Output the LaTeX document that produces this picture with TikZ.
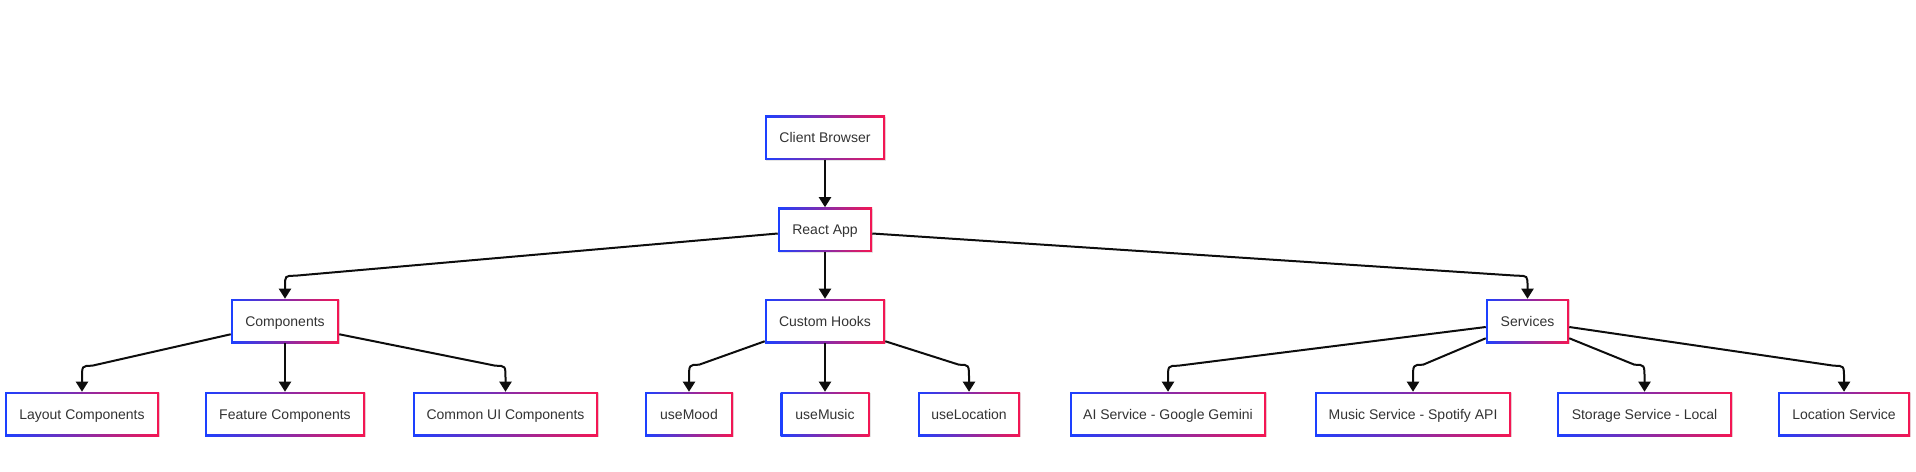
\documentclass[tikz,border=0pt]{standalone}
\usepackage{fontspec}
\setmainfont{Liberation Sans}
\usetikzlibrary{arrows.meta,calc}
\definecolor{bblue}{RGB}{28,64,255}
\definecolor{bred}{RGB}{245,22,82}
\definecolor{txt}{RGB}{51,51,51}
\newdimen\pxu \pxu=0.75pt
\tikzset{
  box/.style={rectangle, draw=none, inner sep=0pt, minimum height=44\pxu,
    minimum width=#1\pxu, text=txt, font=\fontsize{10.5pt}{12pt}\selectfont,
    text height=7.6pt, text depth=0pt,
    preaction={fill=black!10, transform canvas={shift={(0.8pt,-0.8pt)}}},
    path picture={
      \shade[left color=bblue, right color=bred]
        (path picture bounding box.south west) rectangle (path picture bounding box.north east);
      \fill[white] ([shift={(1.5pt,1.5pt)}]path picture bounding box.south west)
        rectangle ([shift={(-1.5pt,-1.5pt)}]path picture bounding box.north east);
    }},
  edge/.style={line width=1.5pt, draw=black!95, -{Triangle[length=7.5pt,width=9pt]}},
}
\begin{document}
\begin{tikzpicture}[x=0.75pt, y=-0.75pt]
\useasboundingbox (0,0) rectangle (1916,471);
% nodes
\node[box=120] (client) at (825,137.5) {Client Browser};
\node[box=94]  (react)  at (825,229.5) {React App};
\node[box=108] (comp)   at (285,321) {Components};
\node[box=120] (hooks)  at (825,321) {Custom Hooks};
\node[box=83]  (serv)   at (1527.5,321) {Services};
\node[box=154] (layout) at (82,414) {Layout Components};
\node[box=160] (feat)   at (285,414) {Feature Components};
\node[box=185] (common) at (505.5,414) {Common UI Components};
\node[box=88]  (mood)   at (689,414) {useMood};
\node[box=89]  (music)  at (825,414) {useMusic};
\node[box=102] (loc)    at (969,414) {useLocation};
\node[box=196] (ai)     at (1168,414) {AI Service - Google Gemini};
\node[box=196] (spot)   at (1413,414) {Music Service - Spotify API};
\node[box=175] (stor)   at (1644.5,414) {Storage Service - Local};
\node[box=132] (locs)   at (1844,414) {Location Service};
% straight edges
\draw[edge] (client.south) -- (react.north);
\draw[edge] (react.south) -- (hooks.north);
\draw[edge] (comp.south) -- (feat.north);
\draw[edge] (hooks.south) -- (music.north);
% curved edges, level 1
\draw[edge] ([shift={(0,4)}]react.west) -- ([shift={(10,-23)}]comp.north)
  .. controls ([shift={(0,-23)}]comp.north) .. ([shift={(0,-12)}]comp.north) -- (comp.north);
\draw[edge] ([shift={(0,4)}]react.east) -- ([shift={(-10,-23)}]serv.north)
  .. controls ([shift={(0,-23)}]serv.north) .. ([shift={(0,-12)}]serv.north) -- (serv.north);
% curved edges, level 2
\draw[edge] ([shift={(0,-9)}]comp.south west) -- ([shift={(10,-26)}]layout.north)
  .. controls ([shift={(0,-26)}]layout.north) .. ([shift={(0,-13)}]layout.north) -- (layout.north);
\draw[edge] ([shift={(0,-9)}]comp.south east) -- ([shift={(-10,-26)}]common.north)
  .. controls ([shift={(0,-26)}]common.north) .. ([shift={(0,-13)}]common.north) -- (common.north);
\draw[edge] ([shift={(0,-2)}]hooks.south west) -- ([shift={(10,-27)}]mood.north)
  .. controls ([shift={(0,-27)}]mood.north) .. ([shift={(0,-13)}]mood.north) -- (mood.north);
\draw[edge] ([shift={(0,-2)}]hooks.south east) -- ([shift={(-10,-27)}]loc.north)
  .. controls ([shift={(0,-27)}]loc.north) .. ([shift={(0,-13)}]loc.north) -- (loc.north);
\draw[edge] ([shift={(0,6)}]serv.west) -- ([shift={(10,-26)}]ai.north)
  .. controls ([shift={(0,-26)}]ai.north) .. ([shift={(0,-13)}]ai.north) -- (ai.north);
\draw[edge] ([shift={(0,-5)}]serv.south west) -- ([shift={(10,-27)}]spot.north)
  .. controls ([shift={(0,-27)}]spot.north) .. ([shift={(0,-13)}]spot.north) -- (spot.north);
\draw[edge] ([shift={(0,-5)}]serv.south east) -- ([shift={(-10,-27)}]stor.north)
  .. controls ([shift={(0,-27)}]stor.north) .. ([shift={(0,-13)}]stor.north) -- (stor.north);
\draw[edge] ([shift={(0,6)}]serv.east) -- ([shift={(-10,-26)}]locs.north)
  .. controls ([shift={(0,-26)}]locs.north) .. ([shift={(0,-13)}]locs.north) -- (locs.north);
\end{tikzpicture}
\end{document}
